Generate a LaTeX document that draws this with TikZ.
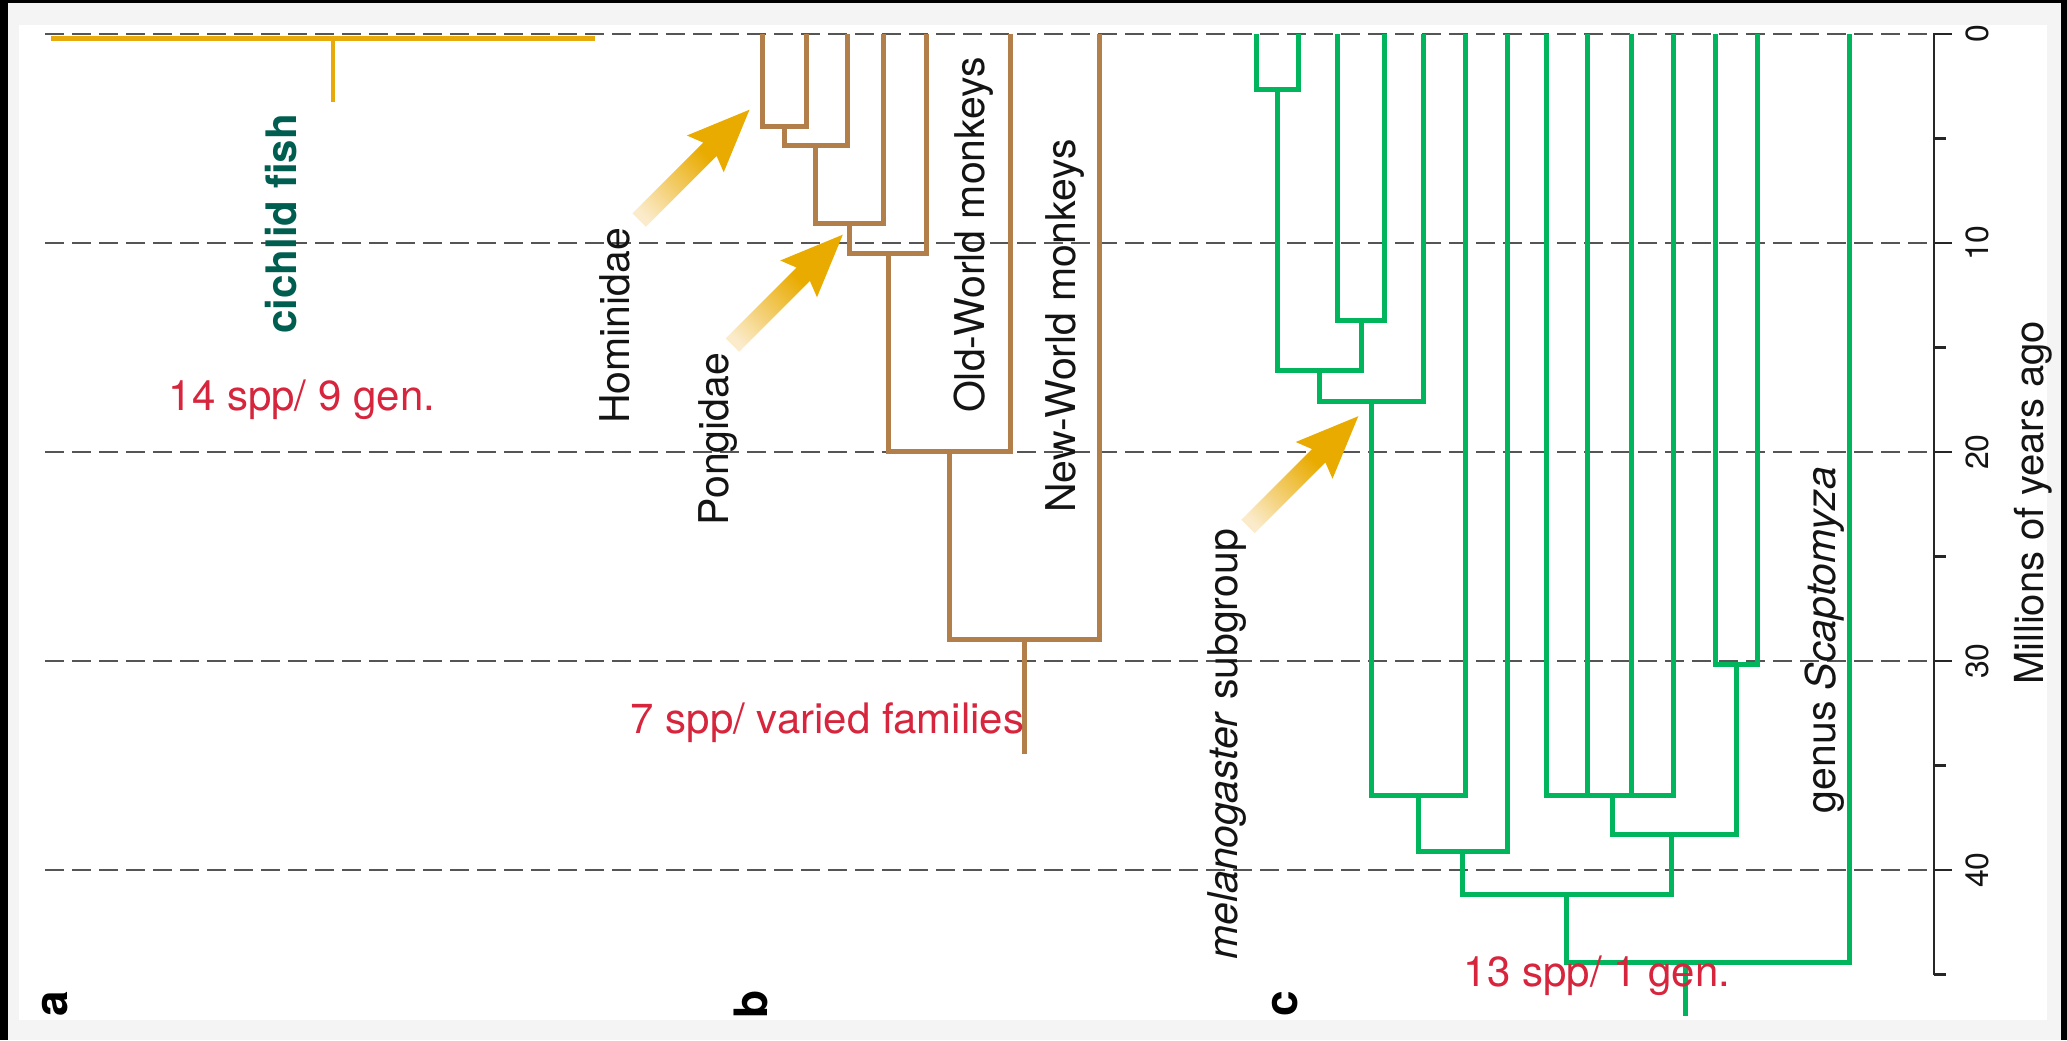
\documentclass[tikz,border=0pt]{standalone}
\usepackage{fontspec}
\setmainfont{TeX Gyre Heros}
\definecolor{bggray}{RGB}{244,244,244}
\definecolor{dashgray}{RGB}{85,85,85}
\definecolor{fishgold}{RGB}{232,170,10}
\definecolor{agold}{RGB}{233,171,0}
\definecolor{apale}{RGB}{251,235,203}
\definecolor{primbrown}{RGB}{178,127,75}
\definecolor{flygreen}{RGB}{0,181,92}
\definecolor{labred}{RGB}{214,37,60}
\definecolor{fishteal}{RGB}{0,94,80}
\pgfdeclarehorizontalshading{arrowfade}{100bp}{color(0bp)=(apale); color(27bp)=(apale); color(55bp)=(agold); color(100bp)=(agold)}
\begin{document}
\begin{tikzpicture}[x=0.5pt,y=-0.5pt,
  tree/.style={line width=2.5pt,line join=miter,line cap=butt},
  primate/.style={tree,draw=primbrown},
  fly/.style={tree,draw=flygreen},
  fishline/.style={line width=2.4pt,draw=fishgold,line cap=butt},
  gridline/.style={draw=dashgray,line width=1pt,dash pattern=on 9.3pt off 4.2pt},
  axisline/.style={draw=black!85,line width=1.3pt},
  vlbl/.style={inner sep=0pt,rotate=90,anchor=base,text=black!92,font=\fontsize{20.5}{24}\selectfont},
  redlbl/.style={inner sep=0pt,anchor=base,text=labred,font=\fontsize{21}{25}\selectfont},
  panellbl/.style={inner sep=0pt,rotate=90,anchor=base,font=\fontsize{23}{27}\selectfont\bfseries},
  ticklbl/.style={inner sep=0pt,rotate=90,anchor=base,text=black!92,font=\fontsize{16}{19}\selectfont},
  fadearrow/.style={shading=arrowfade}]
\useasboundingbox (0,0) rectangle (2067,1040);
% background
\fill[bggray] (0,0) rectangle (2067,1040);
\fill[black] (0,0) rectangle (8,1040);
\fill[black] (0,0) rectangle (2067,3);
\fill[black] (2061,0) rectangle (2067,1040);
\fill[white] (19,25) rectangle (2047,1020);
% grid lines
\foreach \yy in {34,243,452,661,870} \draw[gridline] (45,\yy) -- (1935,\yy);
% ---- a: cichlid fish
\coordinate (c1) at (51,38.5);
\coordinate (c2) at (595,38.5);
\coordinate (cm) at (333,38.5);
\coordinate (cb) at (333,101.7);
\draw[fishline] (c1) -- (c2);
\draw[fishline,line width=2pt] (cm) -- (cb);
% ---- b: primates
\coordinate (T1) at (762,34);
\coordinate (T2) at (806,34);
\coordinate (T3) at (847,34);
\coordinate (T4) at (883.4,34);
\coordinate (T5) at (926.6,34);
\coordinate (T6) at (1010.4,34);
\coordinate (T7) at (1099.6,34);
\coordinate (N1) at (784,126);
\coordinate (N2) at (815.5,145);
\coordinate (N3) at (849.5,223);
\coordinate (N4) at (888,253);
\coordinate (N5) at (949,451);
\coordinate (N6) at (1024,639);
\coordinate (NR) at (1024,754);
\draw[primate] (T1) |- (N1) -| (T2);
\draw[primate] (N1) |- (N2) -| (T3);
\draw[primate] (N2) |- (N3) -| (T4);
\draw[primate] (N3) |- (N4) -| (T5);
\draw[primate] (N4) |- (N5) -| (T6);
\draw[primate] (N5) |- (N6) -| (T7);
\draw[primate] (N6) -- (NR);
% ---- c: Drosophila
\coordinate (D1) at (1256.5,34);
\coordinate (D2) at (1298.6,34);
\coordinate (D3) at (1337.7,34);
\coordinate (D4) at (1384.7,34);
\coordinate (D5) at (1423,34);
\coordinate (D6) at (1465.1,34);
\coordinate (D7) at (1507.2,34);
\coordinate (D8) at (1546.6,34);
\coordinate (D9) at (1587.6,34);
\coordinate (D10) at (1631.6,34);
\coordinate (D11) at (1673.7,34);
\coordinate (D12) at (1715.8,34);
\coordinate (D13) at (1757.9,34);
\coordinate (D14) at (1849.3,34);
\coordinate (FA) at (1277.5,89.3);
\coordinate (FB) at (1361.2,320);
\coordinate (FC) at (1319.4,370.7);
\coordinate (FD) at (1371.2,401.7);
\coordinate (FE) at (1418.2,795.4);
\coordinate (FF) at (1462.7,851.8);
\coordinate (FG) at (1612,795);
\coordinate (FH) at (1736.9,664.4);
\coordinate (FI) at (1671,834.5);
\coordinate (FJ) at (1566.9,894);
\coordinate (FK) at (1685,962.4);
\coordinate (FR) at (1685,1016);
\draw[fly] (D1) |- (FA) -| (D2);
\draw[fly] (D3) |- (FB) -| (D4);
\draw[fly] (FA) |- (FC) -| (FB);
\draw[fly] (FC) |- (FD) -| (D5);
\draw[fly] (FD) |- (FE) -| (D6);
\draw[fly] (FE) |- (FF) -| (D7);
\draw[fly] (D8) |- (FG) -| (D11);
\draw[fly] (D9) -- (D9 |- FG);
\draw[fly] (D10) -- (D10 |- FG);
\draw[fly] (D12) |- (FH) -| (D13);
\draw[fly] (FG) |- (FI) -| (FH);
\draw[fly] (FF) |- (FJ) -| (FI);
\draw[fly] (FJ) |- (FK) -| (D14);
\draw[fly] (FK) -- (FR);
% ---- time axis
\coordinate (ax0) at (1934,33);
\coordinate (ax1) at (1934,975.2);
\draw[axisline] (ax0) -- (ax1);
\foreach \t in {0,10,20,30,40} \draw[axisline] (1934,{34+20.9*\t}) -- ++(18,0);
\foreach \t in {5,15,25,35,45} \draw[axisline] (1934,{34+20.9*\t}) -- ++(12,0);
\foreach \t in {0,10,20,30,40} \node[ticklbl] (tick\t) at (1988,{34+20.9*\t}) {\t};
\node[vlbl,font=\fontsize{20}{24}\selectfont] (axtitle) at (2043,503) {Millions of years ago};
% ---- arrows
\begin{scope}[transform canvas={shift={(639.2,220)},rotate=45}]
\shade[fadearrow] (0,-9.5) -- (100,-9.5) -- (93.5,-26) -- (156,0) -- (93.5,26) -- (100,9.5) -- (0,9.5) -- cycle;
\end{scope}
\begin{scope}[transform canvas={shift={(732.5,345)},rotate=45}]
\shade[fadearrow] (0,-9.5) -- (100,-9.5) -- (93.5,-26) -- (156,0) -- (93.5,26) -- (100,9.5) -- (0,9.5) -- cycle;
\end{scope}
\begin{scope}[transform canvas={shift={(1248,526.5)},rotate=45}]
\shade[fadearrow] (0,-9.5) -- (100,-9.5) -- (93.5,-26) -- (156,0) -- (93.5,26) -- (100,9.5) -- (0,9.5) -- cycle;
\end{scope}
% ---- labels
\node[vlbl,text=fishteal,font=\fontsize{21}{25}\selectfont\bfseries] (fish) at (296,224) {cichlid fish};
\node[redlbl] (fishcount) at (302,410) {14 spp/ 9 gen.};
\node[vlbl] (hom) at (629,326) {Hominidae};
\node[vlbl] (pon) at (728,439) {Pongidae};
\node[vlbl] (oldw) at (984,235) {Old-World monkeys};
\node[vlbl] (neww) at (1075,326) {New-World monkeys};
\node[redlbl] (primcount) at (827.5,733) {7 spp/ varied families};
\node[vlbl] (mel) at (1237,744.5) {\textit{melanogaster} subgroup};
\node[vlbl] (scap) at (1835,640) {genus \textit{Scaptomyza}};
\node[redlbl] (flycount) at (1597,986) {13 spp/ 1 gen.};
\node[panellbl] (pa) at (68,1004) {a};
\node[panellbl] (pb) at (767,1004) {b};
\node[panellbl] (pc) at (1297,1004) {c};
\end{tikzpicture}
\end{document}
